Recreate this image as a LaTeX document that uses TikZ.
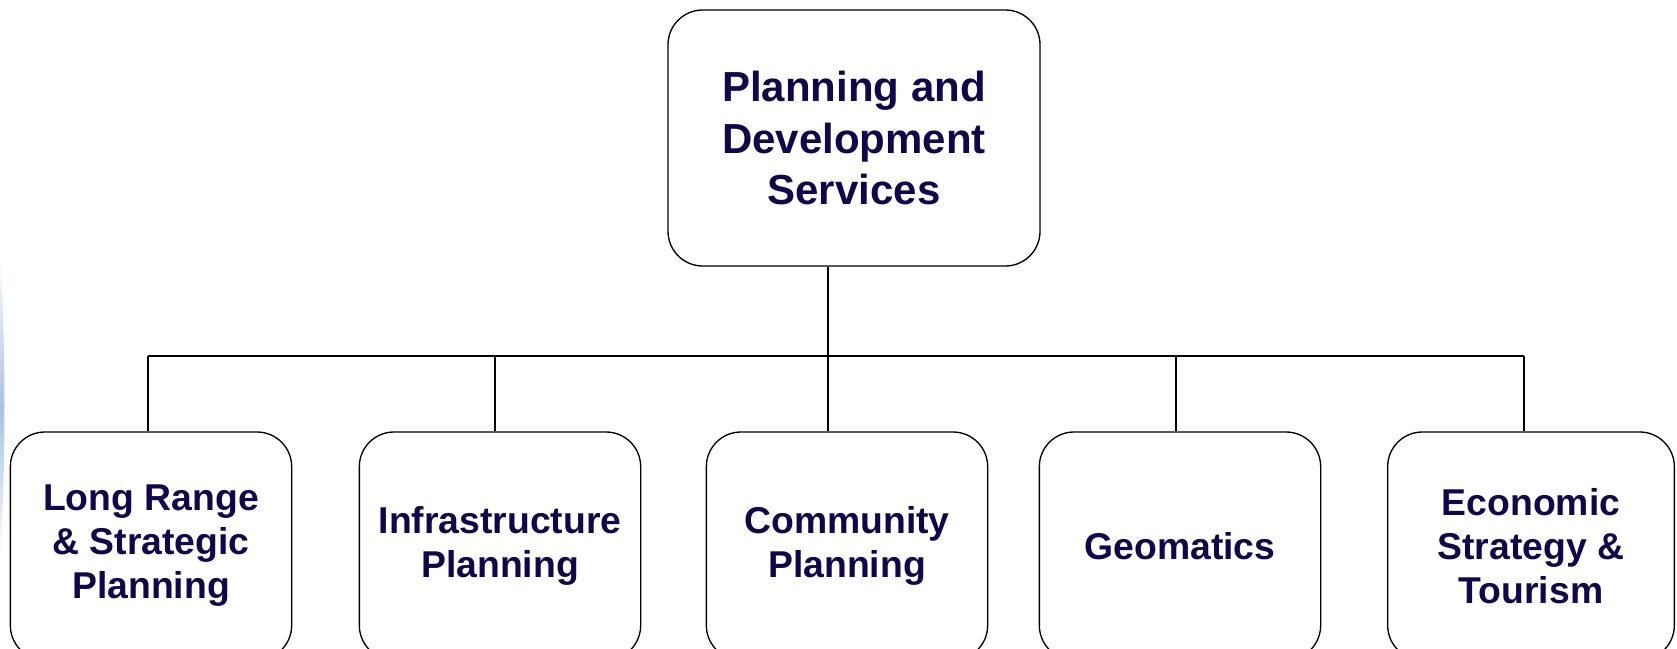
\documentclass[tikz,border=0pt]{standalone}
\usepackage{fontspec}
\setmainfont{Liberation Sans}
\usepackage{tikz}
\usetikzlibrary{positioning}

\definecolor{deptText}{HTML}{12064A}
\definecolor{edgeBlue}{HTML}{A9C2E2}

\tikzset{
	unitBox/.style={draw=black, line width=1pt, rounded corners=26pt, fill=white,
		align=center, text=deptText, inner sep=0pt},
	headBox/.style={unitBox, minimum width=279pt, minimum height=192pt,
		font=\bfseries\fontsize{31.5}{38.5}\selectfont},
	subBox/.style={unitBox, minimum width=211pt, minimum height=171pt,
		font=\bfseries\fontsize{28}{33}\selectfont},
	link/.style={draw=black, line width=0.9pt}
}

\begin{document}
\begin{tikzpicture}[x=0.75pt, y=-0.75pt]

	\useasboundingbox (0,0) rectangle (1677,649);
	\clip (0,0) rectangle (1677,649);

	%Faint edge on the left
	\shade[top color=white, bottom color=white, middle color=edgeBlue]
		(0,250) .. controls (6,350) and (6,460) .. (0,565) -- cycle;

	%Head of the department
	\node[headBox] (PDS) at (854,138) {Planning and\\Development\\Services};

	%Divisions
	\node[subBox] (LRSP) at (151,546) {Long Range\\\& Strategic\\Planning};
	\node[subBox] (InfP) at (500,546) {Infrastructure\\Planning};
	\node[subBox] (ComP) at (847,546) {Community\\Planning};
	\node[subBox] (Geom) at (1180,546) {Geomatics};
	\node[subBox, minimum width=215pt] (EcST) at (1531,546) {Economic\\Strategy \&\\Tourism};

	%Bus joints
	\coordinate (J1) at (148,356);
	\coordinate (J2) at (495,356);
	\coordinate (J3) at (828,356);
	\coordinate (J4) at (1176,356);
	\coordinate (J5) at (1524,356);

	%Connectors
	\draw[link] (PDS.south -| J3) -- (J3);
	\draw[link] (J1) -- (J5);
	\draw[link] (J1) -- (J1 |- LRSP.north);
	\draw[link] (J2) -- (J2 |- InfP.north);
	\draw[link] (J3) -- (J3 |- ComP.north);
	\draw[link] (J4) -- (J4 |- Geom.north);
	\draw[link] (J5) -- (J5 |- EcST.north);

\end{tikzpicture}
\end{document}
